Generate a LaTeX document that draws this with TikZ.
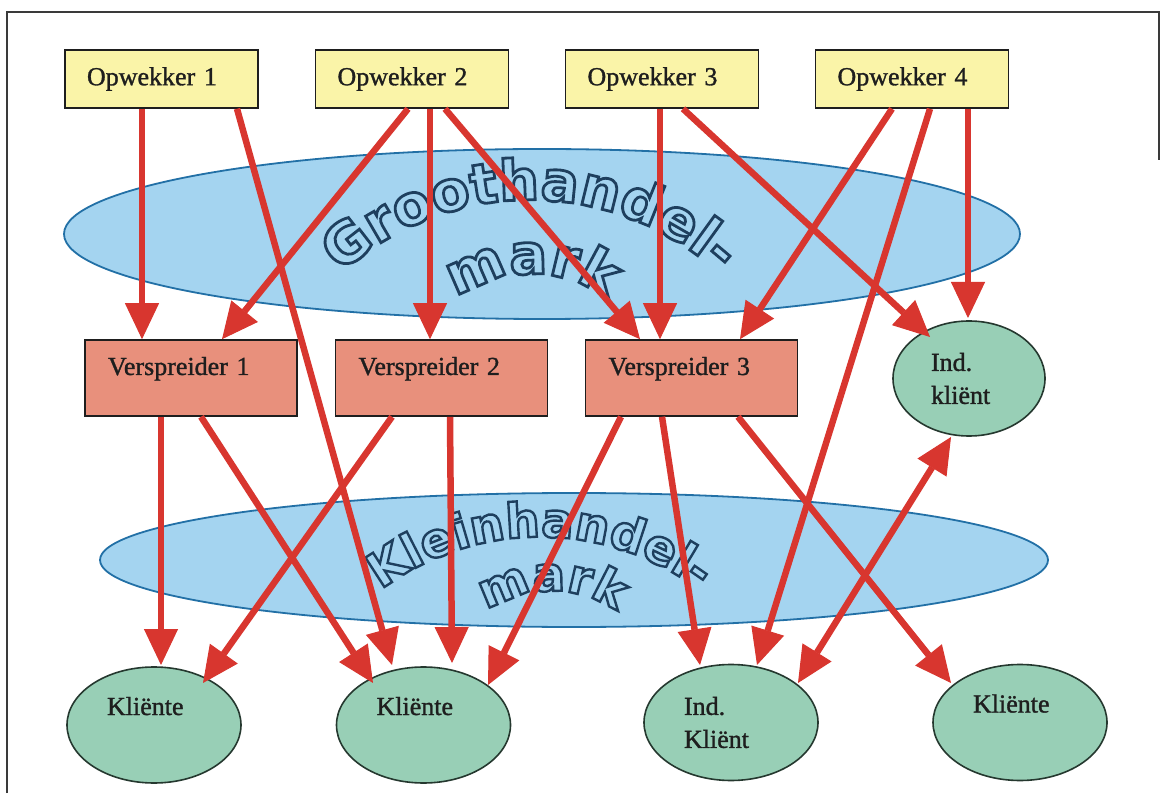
\documentclass[tikz,border=0pt]{standalone}
\usepackage{fontspec}
\setmainfont{Liberation Serif}[FakeBold=1.2]
\newfontfamily\wafont{DejaVu Sans Bold}[FakeBold=5]
\usetikzlibrary{arrows.meta,shapes.geometric,decorations.text}

\definecolor{framegray}{HTML}{3A3A3A}
\definecolor{inkdark}{HTML}{1E1E1E}
\definecolor{opwfill}{HTML}{FAF4A8}
\definecolor{vspfill}{HTML}{E8907C}
\definecolor{klifill}{HTML}{98CFB6}
\definecolor{klidark}{HTML}{25382F}
\definecolor{mktfill}{HTML}{A4D4F0}
\definecolor{mktline}{HTML}{2270A6}
\definecolor{arred}{HTML}{D8362F}

% hollow letters: light fill, dark stroke round each glyph
\newcommand\hollow{\color{mktfill}\special{pdf:literal direct 0.118 0.247 0.369 RG}}

% outlined text set along an arc: #1 centre, #2 radius, #3/#4 angles, #5 size, #6 text
\newcommand\wordarc[6]{%
  \path[decorate,decoration={text along path,text align=center,
    text={|\wafont\fontsize{#5}{#5}\selectfont\hollow|#6}}]
    (#1) ++(#3:#2) arc[start angle=#3,end angle=#4,radius=#2];
}

\begin{document}
\begin{tikzpicture}[x=1pt,y=1pt,
  box/.style={rectangle,draw=inkdark,line width=1.6pt,inner sep=0pt,align=left,
    text=inkdark,font=\fontsize{26pt}{33pt}\selectfont},
  opw/.style={box,fill=opwfill,minimum width=193pt,minimum height=58pt,
    inner xsep=22pt,text width=149pt},
  vsp/.style={box,fill=vspfill,minimum width=212pt,minimum height=76pt,
    inner xsep=23pt,text width=166pt,text height=18pt,text depth=24pt},
  kli/.style={ellipse,draw=klidark,line width=1.6pt,fill=klifill,inner sep=0pt,
    align=left,text=inkdark,font=\fontsize{26pt}{33pt}\selectfont,
    minimum width=174pt,minimum height=116pt,text width=94pt},
  oneline/.style={text height=18pt,text depth=38pt},
  mkt/.style={fill=mktfill,draw=mktline,line width=1.8pt},
  flow/.style={draw=arred,line width=6.5pt,
    -{Triangle[width=34pt,length=36pt,line width=1pt]}},
  flowboth/.style={draw=arred,line width=6.5pt,
    {Triangle[width=34pt,length=36pt,line width=1pt]}-{Triangle[width=34pt,length=36pt,line width=1pt]}}
]
\useasboundingbox (0,0) rectangle (1161,793);
\fill[white] (0,0) rectangle (1161,793);

% frame
\draw[framegray,line width=2pt] (7,0) -- (7,781) -- (1159,781) -- (1159,633);

% market ellipses
\draw[mkt] (542,559) ellipse [x radius=478,y radius=85];
\draw[mkt] (574,233) ellipse [x radius=474,y radius=67];

% arched titles
\coordinate (ghA) at (530,313);
\coordinate (ghB) at (532,394);
\coordinate (khA) at (540,-9);
\coordinate (khB) at (552,90);
\wordarc{ghA}{280}{135}{45}{56pt}{Groothandel-}
\wordarc{ghB}{125}{140}{40}{56pt}{mark}
\wordarc{khA}{265}{130}{50}{48pt}{Kleinhandel-}
\wordarc{khB}{112}{140}{40}{48pt}{mark}

% producers
\node[opw] (o1) at (161.5,714) {Opwekker 1};
\node[opw] (o2) at (412,714) {Opwekker 2};
\node[opw] (o3) at (662,714) {Opwekker 3};
\node[opw] (o4) at (912,714) {Opwekker 4};

% distributors
\node[vsp] (v1) at (191,415) {Verspreider 1};
\node[vsp] (v2) at (441.5,415) {Verspreider 2};
\node[vsp] (v3) at (691.5,415) {Verspreider 3};

% clients
\node[kli,minimum width=152pt,minimum height=115pt,text width=76pt] (ik1) at (969,414.5) {Ind.\\kliënt};
\node[kli,oneline] (k1) at (154,68) {Kliënte};
\node[kli,oneline] (k2) at (423.5,68) {Kliënte};
\node[kli] (ik2) at (731,70.5) {Ind.\\Kliënt};
\node[kli,oneline] (k4) at (1020,70.5) {Kliënte};

% flows from the producers
\draw[flow] ([xshift=-19.5pt]o1.south) -- ([xshift=-49pt]v1.north);
\draw[flow] ([xshift=75.5pt]o1.south) -- ([shift={(-31.5,60)}]k2.center);
\draw[flow] ([xshift=-4pt]o2.south) -- ([xshift=31pt]v1.north);
\draw[flow] ([xshift=18pt]o2.south) -- ([xshift=-11.5pt]v2.north);
\draw[flow] ([xshift=33pt]o2.south) -- ([xshift=-51.5pt]v3.north);
\draw[flow] ([xshift=-2pt]o3.south) -- ([xshift=-31.5pt]v3.north);
\draw[flow] ([xshift=21pt]o3.south) -- ([shift={(-39,41.5)}]ik1.center);
\draw[flow] ([xshift=-20pt]o4.south) -- ([xshift=48.5pt]v3.north);
\draw[flow] ([xshift=18pt]o4.south) -- ([shift={(26,57.5)}]ik2.center);
\draw[flow] ([xshift=56pt]o4.south) -- ([shift={(-1,60.5)}]ik1.center);

% flows from the distributors
\draw[flow] ([xshift=-30pt]v1.south) -- ([shift={(7,60)}]k1.center);
\draw[flow] ([xshift=10pt]v1.south) -- ([shift={(-50.5,42)}]k2.center);
\draw[flow] ([xshift=-49.5pt]v2.south) -- ([shift={(49,42)}]k1.center);
\draw[flow] ([xshift=8.5pt]v2.south) -- ([shift={(28.5,62)}]k2.center);
\draw[flow] ([xshift=-70.5pt]v3.south) -- ([shift={(64.5,40)}]k2.center);
\draw[flow] ([xshift=-29.5pt]v3.south) -- ([shift={(-31,57.5)}]ik2.center);
\draw[flow] ([xshift=46.5pt]v3.south) -- ([shift={(-69,39.5)}]k4.center);

% exchange between the independent clients
\draw[flowboth] ([shift={(-18,-58.5)}]ik1.center) -- ([shift={(67,39.5)}]ik2.center);
\end{tikzpicture}
\end{document}
